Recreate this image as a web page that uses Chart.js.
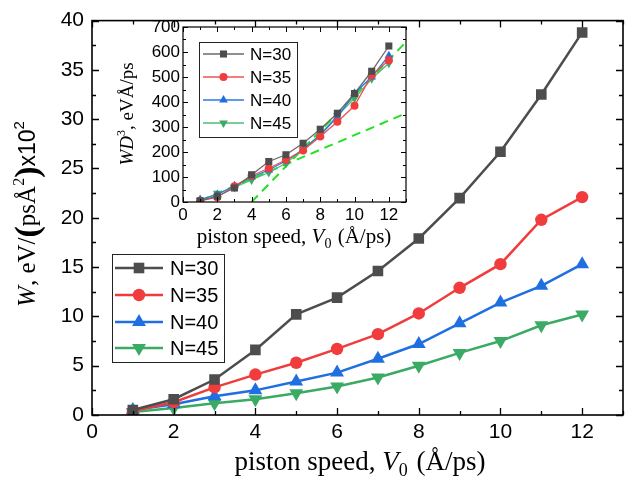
<!DOCTYPE html>
<html>
<head>
<meta charset="utf-8">
<script src="https://cdn.jsdelivr.net/npm/chart.js@4/dist/chart.umd.min.js"></script>
<style>
  html, body { margin: 0; padding: 0; background: #fff; }
  #wrap { position: relative; width: 631px; height: 477px; }
  #main { position: absolute; left: 0; top: 0; }
  #inset { position: absolute; left: 0; top: 0; }
</style>
</head>
<body>
<div id="wrap">
  <canvas id="main" width="631" height="477"></canvas>
  <canvas id="inset" width="430" height="252"></canvas>
</div>
<script>
// ---------- data ----------
const speeds = [1, 2, 3, 4, 5, 6, 7, 8, 9, 10, 11, 12];
const seriesNames = ['N=30', 'N=35', 'N=40', 'N=45'];
const w30 = [0.5, 1.6, 3.6, 6.6, 10.2, 11.9, 14.6, 17.9, 22.0, 26.7, 32.5, 38.8];
const w35 = [0.4, 1.3, 2.8, 4.1, 5.3, 6.7, 8.2, 10.3, 12.9, 15.3, 19.8, 22.1];
const w40 = [0.5, 1.1, 1.9, 2.5, 3.4, 4.3, 5.7, 7.2, 9.3, 11.4, 13.1, 15.3];
const w45 = [0.3, 0.7, 1.2, 1.6, 2.2, 2.9, 3.8, 5.0, 6.3, 7.5, 9.1, 10.2];

const wd30 = [5, 23, 56, 109, 162, 189, 235, 291, 355, 434, 523, 624];
const wd35 = [5, 19, 63, 105, 135, 169, 206, 262, 321, 385, 507, 567];
const wd40 = [10, 30, 65, 100, 128, 165, 210, 268, 340, 435, 500, 585];
const wd45 = [5, 35, 58, 88, 118, 155, 210, 270, 345, 415, 493, 555];

const fitLowX = [1, 13];
const fitLowY = [5, 355];
const fitHighX = [4, 13];
const fitHighY = [0, 640];

const mainXTicks = [0, 2, 4, 6, 8, 10, 12];
const mainXMinor = [1, 3, 5, 7, 9, 11, 13];
const mainYTicks = [0, 5, 10, 15, 20, 25, 30, 35, 40];
const mainYMinor = [2.5, 7.5, 12.5, 17.5, 22.5, 27.5, 32.5, 37.5];
const insetXTicks = [0, 2, 4, 6, 8, 10, 12];
const insetXMinor = [1, 3, 5, 7, 9, 11, 13];
const insetYTicks = [0, 100, 200, 300, 400, 500, 600, 700];
const insetYMinor = [50, 150, 250, 350, 450, 550, 650];

// ---------- helpers ----------
const SANS = '"Liberation Sans", Arial, sans-serif';
const SERIF = '"Liberation Serif", "Times New Roman", serif';
const colors = ['#4d4d4d', '#f03c3c', '#1f6fe0', '#3aaa64'];
const insetLineColors = ['#6a6a6a', '#f25050', '#2a78e6', '#55b87a'];
const styles = ['rect', 'circle', 'triangle', 'triangle'];
const rotations = [0, 0, 0, 180];

function pts(xs, ys) { return xs.map((x, i) => ({ x: x, y: ys[i] })); }

function drawRich(ctx, segs, cx, cy, rotate) {
  ctx.save();
  ctx.translate(cx, cy);
  if (rotate) ctx.rotate(-Math.PI / 2);
  ctx.textBaseline = 'alphabetic';
  ctx.textAlign = 'left';
  ctx.fillStyle = '#000';
  let w = 0;
  segs.forEach(s => { ctx.font = s.f; w += ctx.measureText(s.t).width + (s.gap || 0); });
  let x = -w / 2;
  segs.forEach(s => {
    ctx.font = s.f;
    ctx.fillText(s.t, x, s.dy || 0);
    x += ctx.measureText(s.t).width + (s.gap || 0);
  });
  ctx.restore();
}

function frameAndTicks(chart, o) {
  const ctx = chart.ctx, ca = chart.chartArea;
  const xs = chart.scales.x, ys = chart.scales.y;
  ctx.save();
  ctx.strokeStyle = '#000';
  ctx.lineWidth = o.lw;
  ctx.strokeRect(ca.left, ca.top, ca.right - ca.left, ca.bottom - ca.top);
  ctx.lineWidth = o.tw;
  ctx.beginPath();
  const hx = (vals, len) => vals.forEach(v => {
    const p = Math.round(xs.getPixelForValue(v)) + 0.5;
    ctx.moveTo(p, ca.bottom); ctx.lineTo(p, ca.bottom - len);
    ctx.moveTo(p, ca.top); ctx.lineTo(p, ca.top + len);
  });
  const hy = (vals, len) => vals.forEach(v => {
    const p = Math.round(ys.getPixelForValue(v)) + 0.5;
    ctx.moveTo(ca.left, p); ctx.lineTo(ca.left + len, p);
    ctx.moveTo(ca.right, p); ctx.lineTo(ca.right - len, p);
  });
  hx(o.xMaj, o.maj); hx(o.xMin, o.min);
  hy(o.yMaj, o.maj); hy(o.yMin, o.min);
  ctx.stroke();
  ctx.restore();
}

function drawLegend(chart, o) {
  const ctx = chart.ctx;
  ctx.save();
  ctx.fillStyle = '#fff';
  ctx.fillRect(o.x, o.y, o.w, o.h);
  ctx.strokeStyle = '#222';
  ctx.lineWidth = 1;
  ctx.strokeRect(o.x + 0.5, o.y + 0.5, o.w, o.h);
  seriesNames.forEach((name, i) => {
    const ds = chart.data.datasets[o.offset + i];
    const y = o.rows[i];
    ctx.strokeStyle = ds.borderColor;
    ctx.lineWidth = ds.borderWidth;
    ctx.beginPath();
    ctx.moveTo(o.lx0, y); ctx.lineTo(o.lx1, y);
    ctx.stroke();
    ctx.fillStyle = ds.pointBackgroundColor;
    ctx.strokeStyle = ds.pointBorderColor;
    Chart.helpers.drawPoint(ctx, {
      pointStyle: ds.pointStyle, radius: ds.pointRadius,
      rotation: ds.pointRotation || 0, borderWidth: ds.pointBorderWidth || 0
    }, (o.lx0 + o.lx1) / 2, y);
    ctx.fillStyle = '#000';
    ctx.font = o.font;
    ctx.textBaseline = 'middle';
    ctx.textAlign = 'left';
    ctx.fillText(name, o.tx, y + 1);
  });
  ctx.restore();
}

// ---------- main chart ----------
const mainSeries = [w30, w35, w40, w45];
const mainDatasets = mainSeries.map((arr, i) => ({
  label: seriesNames[i],
  data: pts(speeds, arr),
  borderColor: colors[i],
  backgroundColor: colors[i],
  pointBackgroundColor: colors[i],
  pointBorderColor: colors[i],
  pointBorderWidth: 0,
  borderWidth: 2.5,
  pointStyle: styles[i],
  pointRotation: rotations[i],
  pointRadius: [7.5, 6.2, 8, 8][i],
  pointHoverRadius: [7.5, 6.2, 8, 8][i],
  tension: 0,
  fill: false,
}));

const mainPlugin = {
  id: 'mainDeco',
  beforeDraw(chart) {
    const ctx = chart.ctx;
    ctx.save();
    ctx.fillStyle = '#fff';
    ctx.fillRect(0, 0, chart.width, chart.height);
    ctx.restore();
  },
  afterDraw(chart) {
    frameAndTicks(chart, { lw: 1.6, tw: 1.3, maj: 7, min: 4,
      xMaj: mainXTicks, xMin: mainXMinor, yMaj: mainYTicks, yMin: mainYMinor });
    drawLegend(chart, { x: 112, y: 254, w: 112, h: 108, offset: 0,
      rows: [268, 295, 322, 348], lx0: 115, lx1: 163, tx: 170, font: '20px ' + SANS });
    // x title
    drawRich(chart.ctx, [
      { t: 'piston speed, ', f: '27px ' + SERIF },
      { t: 'V', f: 'italic 27px ' + SERIF },
      { t: '0', f: '18px ' + SERIF, dy: 6, gap: 2 },
      { t: ' (Å/ps)', f: '27px ' + SERIF },
    ], 360, 470, false);
    // y title
    drawRich(chart.ctx, [
      { t: 'W', f: 'italic 25px ' + SERIF },
      { t: ', eV/', f: '25px ' + SERIF },
      { t: '(', f: 'bold 34px ' + SERIF, dy: 3 },
      { t: 'psÅ', f: '25px ' + SERIF },
      { t: '2', f: '16px ' + SERIF, dy: -11 },
      { t: ')', f: 'bold 34px ' + SERIF, dy: 3 },
      { t: 'x10', f: '23px ' + SANS },
      { t: '2', f: '15px ' + SANS, dy: -11 },
    ], 35, 214, true);
  }
};

new Chart(document.getElementById('main'), {
  type: 'line',
  data: { datasets: mainDatasets },
  plugins: [mainPlugin],
  options: {
    responsive: false,
    animation: false,
    events: [],
    layout: { padding: { left: 0, right: 3, top: 14, bottom: 0 } },
    plugins: { legend: { display: false }, tooltip: { enabled: false } },
    scales: {
      x: {
        type: 'linear', min: 0, max: 13,
        afterBuildTicks: s => { s.ticks = mainXTicks.map(v => ({ value: v })); },
        afterFit: s => { s.height = 62; },
        grid: { display: false, drawTicks: false },
        border: { display: false },
        ticks: { padding: 5, color: '#000', font: { family: SANS, size: 21 }, maxRotation: 0 },
      },
      y: {
        type: 'linear', min: 0, max: 40,
        afterBuildTicks: s => { s.ticks = mainYTicks.map(v => ({ value: v })); },
        afterFit: s => { s.width = 92; },
        grid: { display: false, drawTicks: false },
        border: { display: false },
        ticks: { padding: 8, color: '#000', font: { family: SANS, size: 21 } },
      }
    }
  }
});

// ---------- inset chart ----------
const insetSeries = [wd30, wd35, wd40, wd45];
const fitDatasets = [
  { data: pts(fitHighX, fitHighY) },
  { data: pts(fitLowX, fitLowY) },
].map(d => Object.assign(d, {
  borderColor: '#22e022', borderWidth: 2, borderDash: [9, 6],
  pointRadius: 0, tension: 0, fill: false,
}));
const insetDatasets = insetSeries.map((arr, i) => ({
  label: seriesNames[i],
  data: pts(speeds, arr),
  borderColor: insetLineColors[i],
  backgroundColor: colors[i],
  pointBackgroundColor: colors[i],
  pointBorderColor: colors[i],
  pointBorderWidth: 0,
  borderWidth: 1.3,
  pointStyle: styles[i],
  pointRotation: rotations[i],
  pointRadius: [5, 4, 5, 5][i],
  pointHoverRadius: [5, 4, 5, 5][i],
  tension: 0,
  fill: false,
}));

const insetPlugin = {
  id: 'insetDeco',
  beforeDatasetsDraw(chart) {
    const ctx = chart.ctx, ca = chart.chartArea;
    ctx.save();
    ctx.fillStyle = '#fff';
    ctx.fillRect(ca.left, ca.top, ca.right - ca.left, ca.bottom - ca.top);
    ctx.restore();
  },
  afterDraw(chart) {
    frameAndTicks(chart, { lw: 1.2, tw: 1, maj: 5, min: 3,
      xMaj: insetXTicks, xMin: insetXMinor, yMaj: insetYTicks, yMin: insetYMinor });
    drawLegend(chart, { x: 199, y: 42, w: 98, h: 95, offset: 0,
      rows: [54, 77, 100, 123], lx0: 203, lx1: 244, tx: 250, font: '17px ' + SANS });
    drawRich(chart.ctx, [
      { t: 'piston speed, ', f: '21px ' + SERIF },
      { t: 'V', f: 'italic 21px ' + SERIF },
      { t: '0', f: '14px ' + SERIF, dy: 5, gap: 1 },
      { t: ' (Å/ps)', f: '21px ' + SERIF },
    ], 294, 243, false);
    drawRich(chart.ctx, [
      { t: 'WD', f: 'italic 19px ' + SERIF },
      { t: '3', f: '12px ' + SERIF, dy: -8 },
      { t: ', eVÅ/ps', f: '19px ' + SERIF },
    ], 133, 114, true);
  }
};

new Chart(document.getElementById('inset'), {
  type: 'line',
  data: { datasets: insetDatasets.concat(fitDatasets) },
  plugins: [insetPlugin],
  options: {
    responsive: false,
    animation: false,
    events: [],
    layout: { padding: { left: 0, right: 24, top: 27, bottom: 0 } },
    plugins: { legend: { display: false }, tooltip: { enabled: false } },
    scales: {
      x: {
        type: 'linear', min: 0, max: 13,
        afterBuildTicks: s => { s.ticks = insetXTicks.map(v => ({ value: v })); },
        afterFit: s => { s.height = 50; },
        grid: { display: false, drawTicks: false },
        border: { display: false },
        ticks: { padding: 3, color: '#000', font: { family: SANS, size: 17 }, maxRotation: 0 },
      },
      y: {
        type: 'linear', min: 0, max: 700,
        afterBuildTicks: s => { s.ticks = insetYTicks.map(v => ({ value: v })); },
        afterFit: s => { s.width = 183; },
        grid: { display: false, drawTicks: false },
        border: { display: false },
        ticks: { padding: 3, color: '#000', font: { family: SANS, size: 17 } },
      }
    }
  }
});
</script>
</body>
</html>
